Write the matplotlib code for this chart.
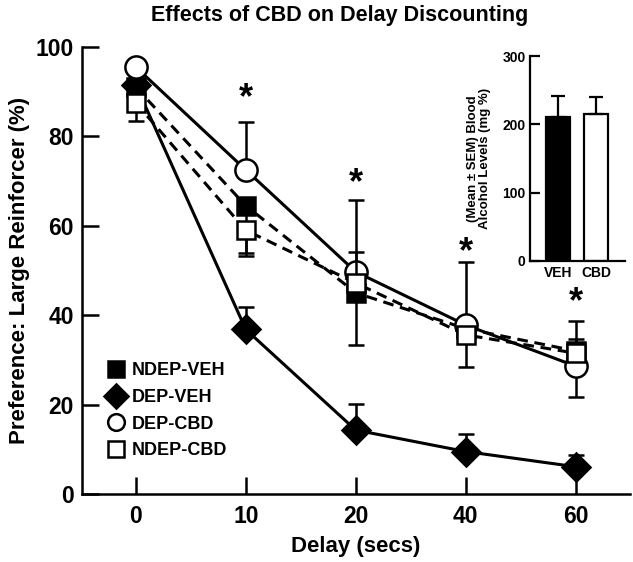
import matplotlib
matplotlib.use("Agg")
import matplotlib.pyplot as plt
from matplotlib.lines import Line2D
import numpy as np

plt.rcParams['font.family'] = ['Liberation Sans', 'DejaVu Sans']
plt.rcParams['font.weight'] = 'bold'

# ---------------- data ----------------
delays = ["0", "10", "20", "40", "60"]

ndep_veh = [91.0, 64.5, 45.0, 37.0, 32.0]
ndep_veh_lo = [0, 10.5, 0, 0, 0]
ndep_veh_hi = [0, 0, 0, 0, 2.7]

dep_veh = [91.5, 36.8, 14.3, 9.5, 6.1]
dep_veh_lo = [0, 0, 0, 0, 0]
dep_veh_hi = [0, 5.0, 5.8, 4.0, 2.6]

dep_cbd = [95.5, 72.5, 49.7, 37.8, 28.6]
dep_cbd_lo = [0, 0, 16.4, 0, 6.8]
dep_cbd_hi = [0, 10.7, 16.1, 14.2, 10.1]

ndep_cbd = [87.5, 59.0, 47.2, 35.6, 31.5]
ndep_cbd_lo = [4.1, 5.8, 0, 7.1, 0]
ndep_cbd_hi = [0, 0, 7.0, 0, 0]

star_x = ["10", "20", "40", "60"]
star_y = [88.5, 69.5, 54.0, 42.7]

bal_groups = ["VEH", "CBD"]
bal_means = [211, 215]
bal_sem = [30, 25]

# ---------------- figure ----------------
fig = plt.figure(figsize=(6.33, 5.62), dpi=100)
ax = fig.add_axes([0.1295, 0.121, 0.865, 0.7954])

x = np.arange(len(delays))
lw = 2.2
elw = 1.8
cap = 5.8

def series(vals, lo, hi, marker, ms, mfc, ls, z, label):
    line, = ax.plot(x, vals, color='black', lw=lw, ls='-', marker=marker,
                    ms=ms, mfc=mfc, mec='black', mew=1.8, zorder=z, label=label)
    if ls == 'dashed':
        line.set_dashes((3.5, 2.2))
    ax.errorbar(x, vals, yerr=[lo, hi], fmt='none', ecolor='black',
                elinewidth=elw, capsize=cap, capthick=elw, zorder=z - 0.5)
    return line

series(dep_veh, dep_veh_lo, dep_veh_hi, 'D', 14, 'black', 'solid', 3, 'DEP-VEH')
series(ndep_veh, ndep_veh_lo, ndep_veh_hi, 's', 13, 'black', 'dashed', 4, 'NDEP-VEH')
series(dep_cbd, dep_cbd_lo, dep_cbd_hi, 'o', 16, 'white', 'solid', 5, 'DEP-CBD')
series(ndep_cbd, ndep_cbd_lo, ndep_cbd_hi, 's', 13, 'white', 'dashed', 6, 'NDEP-CBD')

sx = [delays.index(s) for s in star_x]
for xi, yi in zip(sx, star_y):
    ax.text(xi, yi, "*", ha='center', va='center', fontsize=26, fontweight='bold')

ax.set_xlim(-0.49, 4.49)
ax.set_ylim(0, 100)
ax.set_xticks(x)
ax.set_xticklabels(delays)
ax.set_yticks([0, 20, 40, 60, 80, 100])
ax.tick_params(direction='in', length=12, width=1.8, labelsize=16.5, pad=8)
ax.tick_params(axis='y', pad=6)
for s in ['top', 'right']:
    ax.spines[s].set_visible(False)
for s in ['left', 'bottom']:
    ax.spines[s].set_linewidth(1.8)
for t in ax.get_xticklabels() + ax.get_yticklabels():
    t.set_fontweight('bold')

ax.set_xlabel("Delay (secs)", fontsize=16, fontweight='bold', labelpad=6)
ax.set_ylabel("Preference: Large Reinforcer (%)", fontsize=16, fontweight='bold', labelpad=4)
fig.text(0.536, 0.973, "Effects of CBD on Delay Discounting", ha='center', va='center',
         fontsize=15.5, fontweight='bold')

handles = [Line2D([], [], ls='none', marker='s', ms=12, mfc='black', mec='black', mew=1.8),
           Line2D([], [], ls='none', marker='D', ms=12, mfc='black', mec='black', mew=1.8),
           Line2D([], [], ls='none', marker='o', ms=12, mfc='white', mec='black', mew=1.8),
           Line2D([], [], ls='none', marker='s', ms=12, mfc='white', mec='black', mew=1.8)]
ax.legend(handles, ["NDEP-VEH", "DEP-VEH", "DEP-CBD", "NDEP-CBD"], loc='upper left',
          bbox_to_anchor=(0.046, 0.295), frameon=False, handlelength=1.0,
          handletextpad=0.37, labelspacing=0.54, borderpad=0, borderaxespad=0,
          prop={'weight': 'bold', 'size': 13})

# ---------------- inset ----------------
ins = fig.add_axes([0.837, 0.536, 0.150, 0.364])
bx = np.arange(len(bal_groups))
ins.bar(bx, bal_means, width=0.62, color=['black', 'white'], edgecolor='black', linewidth=1.6)
ins.errorbar(bx, bal_means, yerr=[[0, 0], bal_sem], fmt='none', ecolor='black',
             elinewidth=1.6, capsize=5, capthick=1.6)
ins.set_xlim(-0.727, 1.74)
ins.set_ylim(0, 300)
ins.set_yticks([0, 100, 200, 300])
ins.set_xticks(bx)
ins.set_xticklabels(bal_groups)
ins.tick_params(axis='y', direction='in', length=7, width=1.6, labelsize=10, pad=3)
ins.tick_params(axis='x', length=0, labelsize=10, pad=4)
for t in ins.get_xticklabels() + ins.get_yticklabels():
    t.set_fontweight('bold')
for s in ['top', 'right']:
    ins.spines[s].set_visible(False)
for s in ['left', 'bottom']:
    ins.spines[s].set_linewidth(1.6)
ins.set_ylabel("(Mean \u00b1 SEM) Blood\nAlcohol Levels (mg %)", fontsize=9.5, fontweight='bold',
               labelpad=8, linespacing=1.0)

fig.savefig("out.png", dpi=100)
